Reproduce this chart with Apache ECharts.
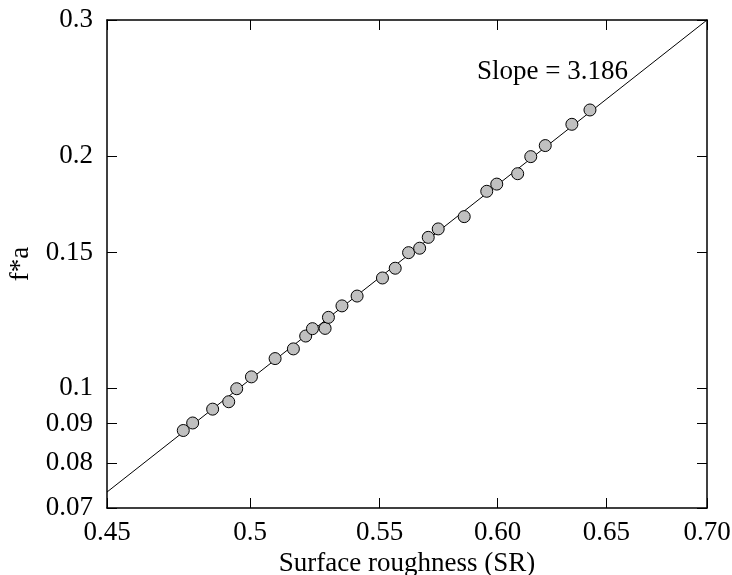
<!DOCTYPE html>
<html>
<head>
<meta charset="utf-8">
<script src="https://cdn.jsdelivr.net/npm/echarts@6/dist/echarts.min.js"></script>
<style>
  html, body { margin: 0; padding: 0; background: #fff; }
  #chart { width: 732px; height: 575px; }
</style>
</head>
<body>
<div id="chart"></div>
<script>
// Surface roughness (SR) measurements
const srValues = [
  0.4760, 0.4793, 0.4864, 0.4922, 0.4951, 0.5005, 0.5093, 0.5162, 0.5209, 0.5235,
  0.5284, 0.5297, 0.5350, 0.5410, 0.5512, 0.5564, 0.5619, 0.5665, 0.5701, 0.5743,
  0.5854, 0.5952, 0.5996, 0.6089, 0.6148, 0.6214, 0.6337, 0.6422
];
// corresponding f*a values
const faValues = [
  0.0882, 0.0902, 0.0940, 0.0961, 0.0999, 0.1035, 0.1093, 0.1125, 0.1169, 0.1195,
  0.1196, 0.1236, 0.1279, 0.1317, 0.1390, 0.1431, 0.1499, 0.1519, 0.1569, 0.1609,
  0.1669, 0.1800, 0.1839, 0.1897, 0.1996, 0.2063, 0.2198, 0.2294
];

// power-law fit: f*a ∝ SR^slope, anchored at its upper end
const fitSlope = 3.186;
const fitEnd = [0.70, 0.30];
const fitStartX = 0.45;

// axis ticks and their printed labels
const xTickValues = [0.45, 0.5, 0.55, 0.6, 0.65, 0.7];
const xTickLabels = ['0.45', '0.5', '0.55', '0.60', '0.65', '0.70'];
const yTickValues = [0.07, 0.08, 0.09, 0.1, 0.15, 0.2, 0.3];
const yTickLabels = ['0.07', '0.08', '0.09', '0.1', '0.15', '0.2', '0.3'];

const points = srValues.map((x, i) => [x, faValues[i]]);
const fitLine = [
  [fitStartX, fitEnd[1] * Math.pow(fitStartX / fitEnd[0], fitSlope)],
  fitEnd
];

const FONT = 'Liberation Serif';
const FS = 27;

function labelFor(values, labels) {
  return function (v) {
    for (let i = 0; i < values.length; i++) {
      if (Math.abs(values[i] - v) < 1e-6) return labels[i];
    }
    return '';
  };
}

function xAxisCfg(pos, showLabels) {
  return {
    type: 'log',
    logBase: 10,
    position: pos,
    min: 0.45,
    max: 0.7,
    name: showLabels ? 'Surface roughness (SR)' : '',
    nameLocation: 'middle',
    nameGap: 37,
    nameTextStyle: { fontFamily: FONT, fontSize: FS, color: '#000' },
    axisLine: { show: true, onZero: false, lineStyle: { color: '#000', width: 1.5 } },
    axisTick: { show: true, inside: true, length: 10, customValues: xTickValues,
                lineStyle: { color: '#000', width: 1 } },
    axisLabel: { show: showLabels, customValues: xTickValues, margin: 11,
                 fontFamily: FONT, fontSize: FS, color: '#000',
                 formatter: labelFor(xTickValues, xTickLabels) },
    splitLine: { show: false },
    minorTick: { show: false }
  };
}

function yAxisCfg(pos, showLabels) {
  return {
    type: 'log',
    logBase: 10,
    position: pos,
    min: 0.07,
    max: 0.3,
    name: showLabels ? 'f*a' : '',
    nameLocation: 'middle',
    nameRotate: 90,
    nameGap: 62,
    nameTextStyle: { fontFamily: FONT, fontSize: FS, color: '#000' },
    axisLine: { show: true, onZero: false, lineStyle: { color: '#000', width: 1.5 } },
    axisTick: { show: true, inside: true, length: 10, customValues: yTickValues,
                lineStyle: { color: '#000', width: 1 } },
    axisLabel: { show: showLabels, customValues: yTickValues, margin: 14,
                 fontFamily: FONT, fontSize: FS, color: '#000',
                 formatter: labelFor(yTickValues, yTickLabels) },
    splitLine: { show: false },
    minorTick: { show: false }
  };
}

const chart = echarts.init(document.getElementById('chart'), null, { renderer: 'canvas' });
chart.setOption({
  backgroundColor: '#fff',
  animation: false,
  grid: { left: 107, right: 25, top: 20, bottom: 67, containLabel: false, outerBoundsMode: 'none' },
  xAxis: [xAxisCfg('bottom', true), xAxisCfg('top', false)],
  yAxis: [yAxisCfg('left', true), yAxisCfg('right', false)],
  graphic: [{
    type: 'text',
    left: 477,
    top: 58,
    style: { text: 'Slope = ' + fitSlope.toFixed(3), fontFamily: FONT, fontSize: FS, fill: '#000' }
  }],
  series: [
    {
      type: 'line',
      data: fitLine,
      showSymbol: false,
      clip: true,
      lineStyle: { color: '#000', width: 1 },
      z: 2
    },
    {
      type: 'scatter',
      data: points,
      symbol: 'circle',
      symbolSize: 12,
      itemStyle: { color: '#c0c0c0', borderColor: '#000', borderWidth: 1, opacity: 1 },
      z: 3
    }
  ]
});
</script>
</body>
</html>
